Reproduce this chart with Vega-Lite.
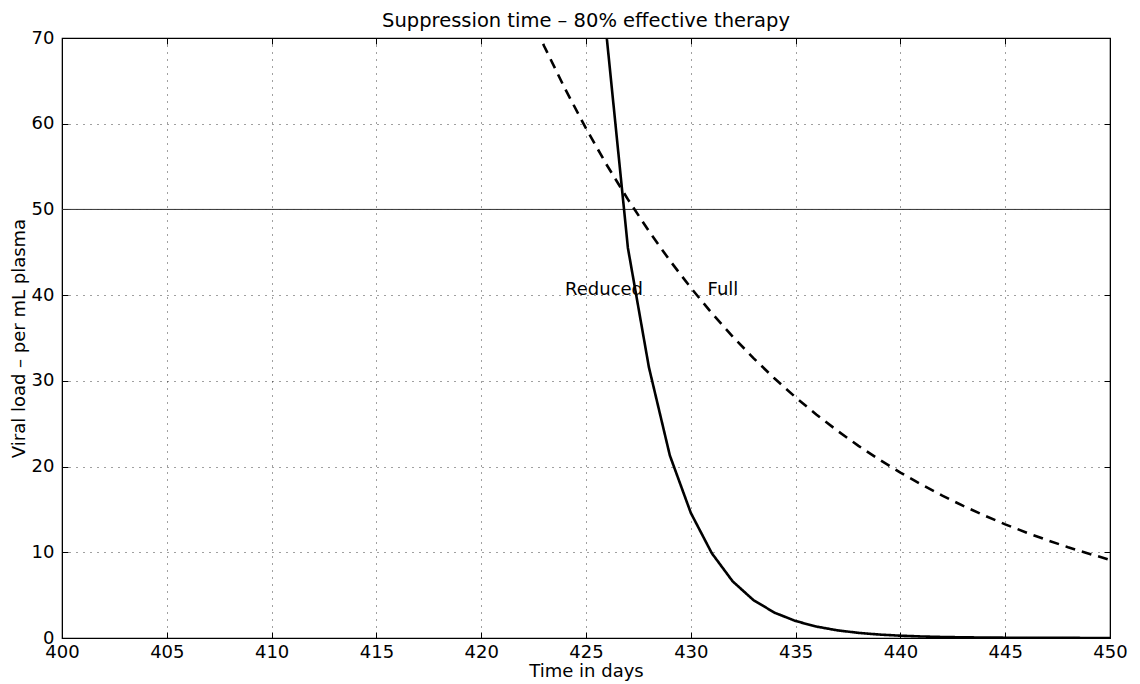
{
  "$schema": "https://vega.github.io/schema/vega-lite/v6.json",
  "width": 1048,
  "height": 600,
  "autosize": "none",
  "padding": {"left": 62, "top": 38, "right": 30, "bottom": 46},
  "background": "white",
  "title": {"text": "Suppression time – 80% effective therapy", "font": "DejaVu Sans", "fontSize": 19.5, "fontWeight": "normal", "color": "black", "offset": -2, "anchor": "middle"},
  "config": {
    "view": {"stroke": "black", "strokeWidth": 1.2},
    "axis": {
      "labelFont": "DejaVu Sans", "labelFontSize": 18, "labelColor": "black",
      "titleFont": "DejaVu Sans", "titleFontSize": 18, "titleFontWeight": "normal", "titleColor": "black",
      "domainColor": "black", "tickColor": "black", "tickSize": -6, "tickWidth": 1,
      "gridDash": [1, 6], "gridColor": "black", "gridOpacity": 0.75, "gridWidth": 1,
      "labelFlush": false, "labelOverlap": false
    }
  },
  "datasets": {
    "curves": [
      {"day": 419, "load": 93.2, "therapy": "Full"},
      {"day": 420, "load": 86.5, "therapy": "Full"},
      {"day": 421, "load": 80.25, "therapy": "Full"},
      {"day": 422, "load": 74.45, "therapy": "Full"},
      {"day": 423, "load": 69.07, "therapy": "Full"},
      {"day": 424, "load": 64.08, "therapy": "Full"},
      {"day": 425, "load": 59.45, "therapy": "Full"},
      {"day": 426, "load": 55.15, "therapy": "Full"},
      {"day": 427, "load": 51.17, "therapy": "Full"},
      {"day": 428, "load": 47.47, "therapy": "Full"},
      {"day": 429, "load": 44.04, "therapy": "Full"},
      {"day": 430, "load": 40.86, "therapy": "Full"},
      {"day": 431, "load": 37.91, "therapy": "Full"},
      {"day": 432, "load": 35.17, "therapy": "Full"},
      {"day": 433, "load": 32.63, "therapy": "Full"},
      {"day": 434, "load": 30.27, "therapy": "Full"},
      {"day": 435, "load": 28.08, "therapy": "Full"},
      {"day": 436, "load": 26.05, "therapy": "Full"},
      {"day": 437, "load": 24.17, "therapy": "Full"},
      {"day": 438, "load": 22.42, "therapy": "Full"},
      {"day": 439, "load": 20.8, "therapy": "Full"},
      {"day": 440, "load": 19.3, "therapy": "Full"},
      {"day": 441, "load": 17.91, "therapy": "Full"},
      {"day": 442, "load": 16.61, "therapy": "Full"},
      {"day": 443, "load": 15.41, "therapy": "Full"},
      {"day": 444, "load": 14.3, "therapy": "Full"},
      {"day": 445, "load": 13.26, "therapy": "Full"},
      {"day": 446, "load": 12.31, "therapy": "Full"},
      {"day": 447, "load": 11.42, "therapy": "Full"},
      {"day": 448, "load": 10.59, "therapy": "Full"},
      {"day": 449, "load": 9.83, "therapy": "Full"},
      {"day": 450, "load": 9.12, "therapy": "Full"},
      {"day": 425, "load": 104, "therapy": "Reduced"},
      {"day": 426, "load": 69.8, "therapy": "Reduced"},
      {"day": 427, "load": 45.5, "therapy": "Reduced"},
      {"day": 428, "load": 31.6, "therapy": "Reduced"},
      {"day": 429, "load": 21.3, "therapy": "Reduced"},
      {"day": 430, "load": 14.6, "therapy": "Reduced"},
      {"day": 431, "load": 9.9, "therapy": "Reduced"},
      {"day": 432, "load": 6.6, "therapy": "Reduced"},
      {"day": 433, "load": 4.4, "therapy": "Reduced"},
      {"day": 434, "load": 2.95, "therapy": "Reduced"},
      {"day": 435, "load": 1.98, "therapy": "Reduced"},
      {"day": 436, "load": 1.33, "therapy": "Reduced"},
      {"day": 437, "load": 0.89, "therapy": "Reduced"},
      {"day": 438, "load": 0.6, "therapy": "Reduced"},
      {"day": 439, "load": 0.4, "therapy": "Reduced"},
      {"day": 440, "load": 0.27, "therapy": "Reduced"},
      {"day": 441, "load": 0.18, "therapy": "Reduced"},
      {"day": 442, "load": 0.12, "therapy": "Reduced"},
      {"day": 443, "load": 0.08, "therapy": "Reduced"},
      {"day": 444, "load": 0.054, "therapy": "Reduced"},
      {"day": 445, "load": 0.036, "therapy": "Reduced"},
      {"day": 446, "load": 0.024, "therapy": "Reduced"},
      {"day": 447, "load": 0.016, "therapy": "Reduced"},
      {"day": 448, "load": 0.011, "therapy": "Reduced"},
      {"day": 449, "load": 0.007, "therapy": "Reduced"},
      {"day": 450, "load": 0.005, "therapy": "Reduced"}
    ],
    "labels": [
      {"day": 424, "load": 40, "label": "Reduced"},
      {"day": 430.8, "load": 40, "label": "Full"}
    ],
    "threshold": [{"load": 50}]
  },
  "layer": [
    {
      "data": {"name": "threshold"},
      "mark": {"type": "rule", "color": "#333333", "strokeWidth": 1},
      "encoding": {
        "y": {"field": "load", "type": "quantitative", "scale": {"domain": [0, 70], "nice": false}, "axis": null}
      }
    },
    {
      "data": {"name": "curves"},
      "mark": {"type": "line", "color": "black", "strokeWidth": 2.6, "clip": true},
      "encoding": {
        "x": {"field": "day", "type": "quantitative", "scale": {"domain": [400, 450], "nice": false, "zero": false},
              "axis": {"orient": "bottom", "title": "Time in days", "values": [400, 405, 410, 415, 420, 425, 430, 435, 440, 445, 450], "grid": true, "labelPadding": 11, "titlePadding": 1}},
        "y": {"field": "load", "type": "quantitative", "scale": {"domain": [0, 70], "nice": false},
              "axis": {"orient": "left", "title": "Viral load – per mL plasma", "values": [0, 10, 20, 30, 40, 50, 60, 70], "grid": true, "labelPadding": 14, "titlePadding": 3}},
        "detail": {"field": "therapy"},
        "strokeDash": {"field": "therapy", "type": "nominal", "scale": {"domain": ["Full", "Reduced"], "range": [[10, 7], [1, 0]]}, "legend": null}
      }
    },
    {
      "data": {"name": "labels"},
      "mark": {"type": "text", "align": "left", "baseline": "alphabetic", "font": "DejaVu Sans", "fontSize": 18, "color": "black"},
      "encoding": {
        "x": {"field": "day", "type": "quantitative", "scale": {"domain": [400, 450], "nice": false, "zero": false},
              "axis": {"orient": "top", "labels": false, "title": null, "grid": false, "values": [400, 405, 410, 415, 420, 425, 430, 435, 440, 445, 450]}},
        "y": {"field": "load", "type": "quantitative", "scale": {"domain": [0, 70], "nice": false},
              "axis": {"orient": "right", "labels": false, "title": null, "grid": false, "values": [0, 10, 20, 30, 40, 50, 60, 70]}},
        "text": {"field": "label"}
      }
    }
  ],
  "resolve": {"axis": {"x": "independent", "y": "independent"}}
}
